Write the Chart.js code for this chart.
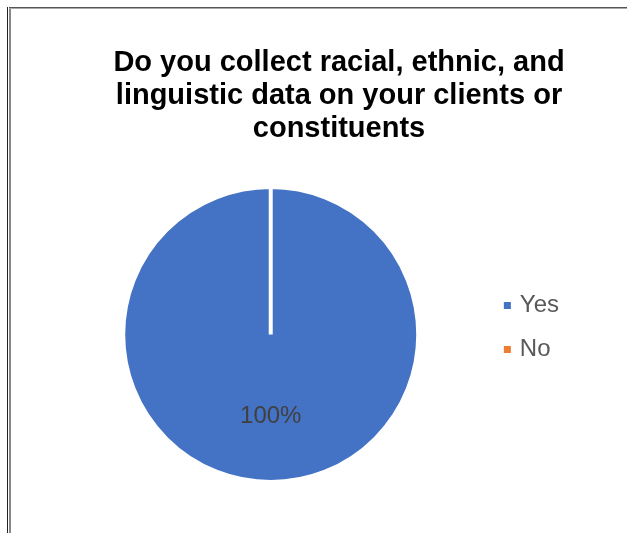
<!DOCTYPE html>
<html>
<head>
<meta charset="utf-8">
<script src="https://cdn.jsdelivr.net/npm/chart.js@4/dist/chart.umd.min.js"></script>
<style>
  html, body { margin: 0; padding: 0; background: #fff; overflow: hidden; }
  #wrap { position: relative; width: 627px; height: 533px; }
  #c { position: absolute; left: 0; top: 0; }
  .ln { position: absolute; }
</style>
</head>
<body>
<div id="wrap">
  <canvas id="c" width="627" height="533"></canvas>
  <div class="ln" style="left:7px;top:7px;width:1px;height:526px;background:#222;"></div>
  <div class="ln" style="left:9px;top:7px;width:2px;height:526px;background:#888;"></div>
  <div class="ln" style="left:9px;top:7px;width:618px;height:1px;background:#555;"></div>
  <div class="ln" style="left:9px;top:8px;width:618px;height:1px;background:#aaa;"></div>
</div>
<script>
const titleLines = ['Do you collect racial, ethnic, and', 'linguistic data on your clients or', 'constituents'];
const categories = ['Yes', 'No'];
const values = [100, 0];
const sliceColors = ['#4472C4', '#ED7D31'];

const FONT = "'Liberation Sans', Arial, sans-serif";
const TITLE_SHIFT = 27.2;
const LEGEND_SHIFT = -7;

const nudge = {
  id: 'nudge',
  afterLayout(chart) {
    const t = chart.titleBlock;
    if (t) { t.left += TITLE_SHIFT; t.right += TITLE_SHIFT; }
    const l = chart.legend;
    if (l) { l.top += LEGEND_SHIFT; l.bottom += LEGEND_SHIFT; }
  }
};

const pctLabels = {
  id: 'pctLabels',
  afterDatasetsDraw(chart) {
    const ctx = chart.ctx;
    const meta = chart.getDatasetMeta(0);
    const data = chart.data.datasets[0].data;
    const total = data.reduce((a, b) => a + b, 0);
    ctx.save();
    ctx.font = '24px ' + FONT;
    ctx.fillStyle = '#404040';
    ctx.textAlign = 'center';
    ctx.textBaseline = 'middle';
    meta.data.forEach((arc, i) => {
      if (!data[i]) return;
      const p = arc.getProps(['x', 'y', 'startAngle', 'endAngle', 'outerRadius'], true);
      const mid = (p.startAngle + p.endAngle) / 2;
      const r = p.outerRadius * 0.555;
      const txt = Math.round(data[i] / total * 100) + '%';
      ctx.fillText(txt, p.x + Math.cos(mid) * r, p.y + Math.sin(mid) * r);
    });
    ctx.restore();
  }
};

new Chart(document.getElementById('c'), {
  type: 'pie',
  data: {
    labels: categories,
    datasets: [{
      data: values,
      backgroundColor: sliceColors,
      borderColor: '#ffffff',
      borderWidth: 4
    }]
  },
  plugins: [nudge, pctLabels],
  options: {
    responsive: false,
    devicePixelRatio: 1,
    animation: false,
    layout: { padding: { left: 54.6, right: 58, top: 0, bottom: 49 } },
    plugins: {
      tooltip: { enabled: false },
      title: {
        display: true,
        text: titleLines,
        color: '#000000',
        font: { family: FONT, size: 29, weight: 'bold', lineHeight: 33 / 29 },
        padding: { top: 46, bottom: 40 }
      },
      legend: {
        display: true,
        position: 'right',
        fullSize: false,
        align: 'center',
        labels: {
          font: { family: FONT, size: 24 },
          color: '#595959',
          boxWidth: 1,
          boxHeight: 1,
          padding: 20,
          generateLabels(chart) {
            const items = Chart.overrides.pie.plugins.legend.labels.generateLabels(chart);
            return items.map(it => Object.assign(it, {
              strokeStyle: it.fillStyle,
              lineWidth: 6,
              lineJoin: 'miter'
            }));
          }
        }
      }
    }
  }
});
</script>
</body>
</html>
